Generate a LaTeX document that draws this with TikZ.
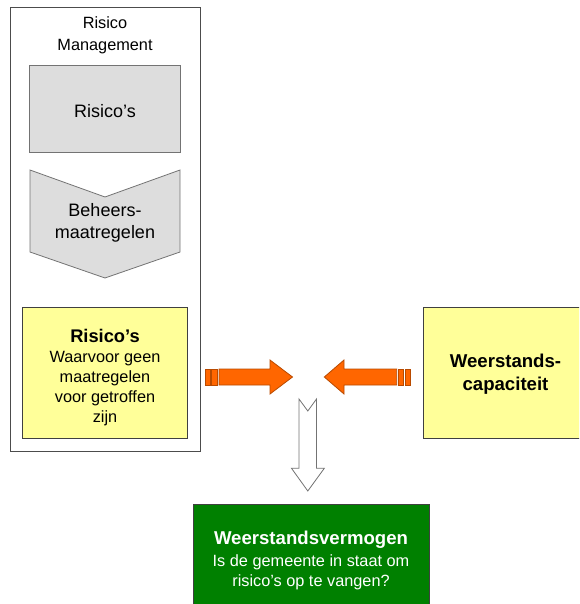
\documentclass[tikz,border=0pt]{standalone}
\usepackage{fontspec}
\setmainfont{Liberation Sans}
\usetikzlibrary{positioning, calc}

\definecolor{grijsvlak}{HTML}{DDDDDD}
\definecolor{geelvlak}{HTML}{FFFF99}
\definecolor{oranjevlak}{HTML}{FF6600}
\definecolor{oranjerand}{HTML}{B84A00}
\definecolor{groenvlak}{HTML}{008000}

\begin{document}
\begin{tikzpicture}[x=1pt, y=-1pt, font=\fontsize{16.3}{20}\selectfont]

\tikzset{
  kader/.style={draw=black!70, line width=0.8pt, minimum width=190pt, minimum height=444pt},
  blok/.style={draw=black!55, fill=grijsvlak, line width=0.8pt},
  groot/.style={font=\fontsize{18}{22}\selectfont},
  geel/.style={draw=black!75, fill=geelvlak, line width=0.8pt, minimum width=165pt, minimum height=131pt},
  oranje/.style={draw=oranjerand, fill=oranjevlak, line width=0.8pt},
  kop/.style={font=\bfseries\fontsize{18.6}{23}\selectfont},
}

\useasboundingbox (0,0) rectangle (579,604);
\clip (0,0) rectangle (579,604);

% linker kolom
\node[kader] (beheer) at (105,229) {};
\node[align=center, font=\fontsize{16.3}{22}\selectfont] (titel) at (105,35) {Risico\\Management};
\node[blok, minimum width=151pt, minimum height=87pt] (risicos) at (105,108.5) {};
\node[groot] (risicotekst) at (105,111) {Risico’s};
\draw[blok] (30,170) -- (105,197) -- (180,170) -- (180,252) -- (105,278) -- (30,252) -- cycle;
\node[groot, align=center] (maatregelen) at (105,222.5) {Beheers-\\maatregelen};
\node[geel] (restrisico) at (105,372.5) {};
\node[align=center] (resttekst) at (105,377.5) {{\bfseries\fontsize{18.3}{20}\selectfont Risico’s}\\Waarvoor geen\\maatregelen\\voor getroffen\\zijn};

% rechter blok
\node[geel] (capaciteit) at (505.5,372.5) {};
\node[kop, align=center] (captekst) at (505.5,374.5) {Weerstands-\\capaciteit};

% oranje pijlen
\filldraw[oranje] (205.7,369) rectangle (210,385);
\filldraw[oranje] (211.7,369) rectangle (217,385);
\filldraw[oranje] (219,369) -- (270,369) -- (270,360) -- (292.5,377) -- (270,394) -- (270,385) -- (219,385) -- cycle;

\filldraw[oranje] (410,369) rectangle (405.3,385);
\filldraw[oranje] (403.5,369) rectangle (398.5,385);
\filldraw[oranje] (396.7,369) -- (344,369) -- (344,360) -- (324.3,377) -- (344,394) -- (344,385) -- (396.7,385) -- cycle;

% witte pijl omlaag
\draw[draw=black!55, fill=white, line width=0.8pt] (299,399) -- (307.8,411) -- (316.5,399) -- (316.5,468.3) -- (324.3,468.3) -- (307.8,491) -- (291.5,468.3) -- (299,468.3) -- cycle;

% resultaat
\node[draw=black!75, fill=groenvlak, line width=0.8pt, minimum width=236pt, minimum height=108pt] (vermogen) at (311,558) {};
\node[text=white, align=center] (vermogentekst) at (311,560)
  {{\bfseries\fontsize{18.6}{20}\selectfont Weerstandsvermogen}\\[2pt]Is de gemeente in staat om\\risico’s op te vangen?};

\end{tikzpicture}
\end{document}
